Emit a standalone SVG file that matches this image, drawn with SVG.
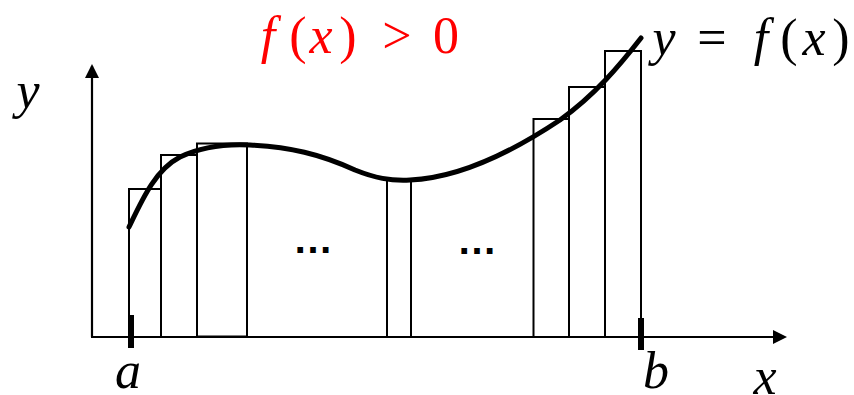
<svg xmlns="http://www.w3.org/2000/svg" width="854" height="395" viewBox="0 0 854 395">
<style>
.ax{stroke:#000;stroke-width:2.2;fill:none}
.bar{stroke:#000;stroke-width:2;fill:#fff}
.tick{stroke:#000;stroke-width:6}
.curve{stroke:#000;stroke-width:5;fill:none;stroke-linecap:round}
.m{font-family:"Liberation Serif","DejaVu Serif",serif;font-size:52px;text-anchor:middle}
.i{font-style:italic}
.dots{font-family:"Liberation Sans",sans-serif;font-size:40px;font-weight:bold;text-anchor:middle}
</style>
<defs>
<marker id="arr" markerWidth="14" markerHeight="14" refX="12" refY="7" orient="auto" markerUnits="userSpaceOnUse">
<path d="M0,0 L14,7 L0,14 Z" fill="#000"/>
</marker>
</defs>
<g id="bars">
<rect class="bar" x="129" y="189" width="32" height="148"/>
<rect class="bar" x="161" y="155" width="36" height="182"/>
<rect class="bar" x="197" y="143.5" width="50" height="193"/>
<rect class="bar" x="387" y="180" width="24" height="157"/>
<rect class="bar" x="533.5" y="119" width="35.5" height="218"/>
<rect class="bar" x="569" y="87" width="36" height="250"/>
<rect class="bar" x="605" y="51" width="36" height="286"/>
</g>
<g id="connectors">
<line class="ax" x1="92" y1="337" x2="92" y2="66" marker-end="url(#arr)"/>
<line class="ax" x1="91" y1="337" x2="785" y2="337" marker-end="url(#arr)"/>
<line class="tick" x1="131" y1="315" x2="131" y2="348"/>
<line class="tick" x1="641" y1="318" x2="641" y2="350"/>
</g>
<g id="curve">
<path class="curve" d="M129,227 C142,200 155,170 180,157 C205,145 230,144 250,145 C290,147 320,154 355,170 C375,178 390,181 410,180 C460,178 515,150 560,120 C595,95 620,65 641,38"/>
</g>
<g id="labels">
<text class="m i" x="28" y="108">y</text>
<text class="m" fill="#ff0000" y="53"><tspan class="i" x="268">f</tspan><tspan x="298">(</tspan><tspan class="i" x="321">x</tspan><tspan x="348">)</tspan><tspan x="397">&gt;</tspan><tspan x="446">0</tspan></text>
<text class="m" y="55"><tspan class="i" x="664">y</tspan><tspan x="712">=</tspan><tspan class="i" x="761">f</tspan><tspan x="789">(</tspan><tspan class="i" x="814">x</tspan><tspan x="841">)</tspan></text>
<text class="m i" x="128" y="388">a</text>
<text class="m i" x="656" y="388">b</text>
<text class="m i" x="765" y="394">x</text>
<text class="dots" x="313" y="253">…</text>
<text class="dots" x="477" y="254">…</text>
</g>
</svg>
